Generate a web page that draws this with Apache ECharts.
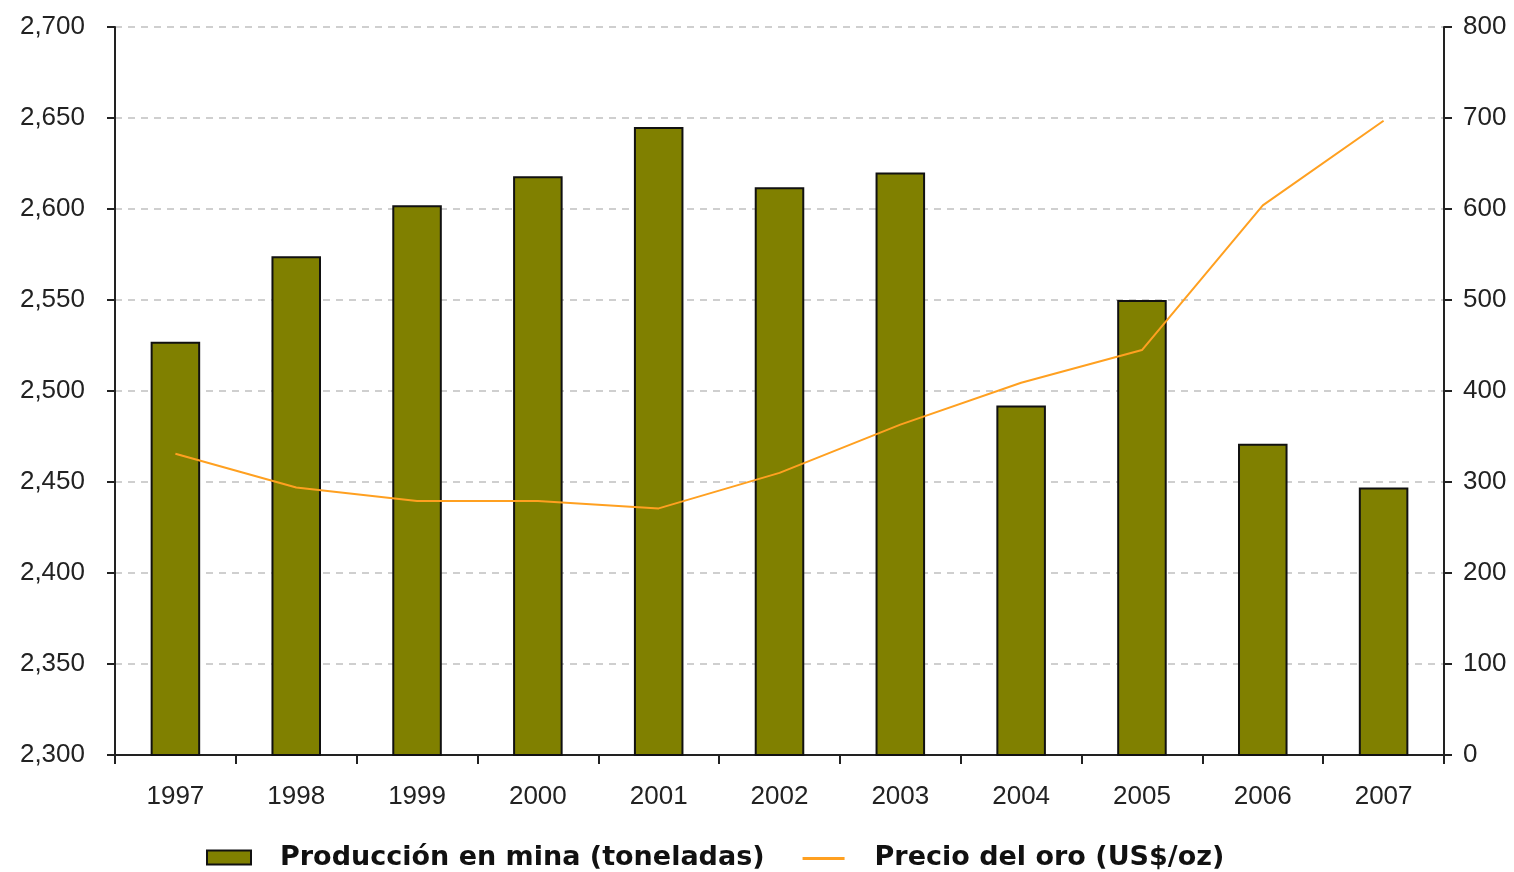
<!DOCTYPE html>
<html>
<head>
<meta charset="utf-8">
<script src="https://cdn.jsdelivr.net/npm/echarts@6/dist/echarts.min.js"></script>
<style>html,body{margin:0;padding:0;background:#fff;}#c{width:1514px;height:872px;}</style>
</head>
<body>
<div id="c"></div>
<script>
const years = ['1997','1998','1999','2000','2001','2002','2003','2004','2005','2006','2007'];
const produccion = [2527, 2574, 2602, 2618, 2645, 2612, 2620, 2492, 2550, 2471, 2447];
const precio = [331, 294, 279, 279, 271, 310, 363, 409, 445, 604, 697];
const leftTicks = [2300, 2700, 50];
const rightTicks = [0, 800, 100];

const chart = echarts.init(document.getElementById('c'), null, {renderer: 'canvas'});
const labelFont = {fontFamily: 'Liberation Sans', fontSize: 26, color: '#222'};
chart.setOption({
  animation: false,
  backgroundColor: '#fff',
  grid: {left: 115, right: 70, top: 27, bottom: 117, containLabel: false},
  legend: {
    top: 839, left: 201,
    itemWidth: 44, itemHeight: 14, itemGap: 38,
    textStyle: {fontFamily: 'DejaVu Sans', fontWeight: 'bold', fontSize: 27, color: '#111', padding: [0, 0, 0, 24]},
    data: [
      {name: 'Producción en mina (toneladas)', icon: 'rect'},
      {name: 'Precio del oro (US$/oz)', icon: 'path://M0,0 L0,0 M0,6.5 L42,6.5 L42,9.5 L0,9.5 Z M0,14 L0,14'}
    ]
  },
  xAxis: {
    type: 'category',
    data: years,
    boundaryGap: true,
    axisLine: {lineStyle: {color: '#222', width: 2}},
    axisTick: {show: true, alignWithLabel: false, length: 9, lineStyle: {color: '#222', width: 2}},
    axisLabel: Object.assign({margin: 29}, labelFont)
  },
  yAxis: [
    {
      type: 'value', min: leftTicks[0], max: leftTicks[1], interval: leftTicks[2],
      axisLine: {show: true, lineStyle: {color: '#222', width: 2}},
      axisTick: {show: true, length: 8, lineStyle: {color: '#222', width: 2}},
      axisLabel: Object.assign({margin: 30, formatter: v => v.toLocaleString('en-US')}, labelFont),
      splitLine: {show: true, lineStyle: {color: '#c0c0c0', type: [7, 6], width: 1.5}}
    },
    {
      type: 'value', min: rightTicks[0], max: rightTicks[1], interval: rightTicks[2],
      position: 'right',
      axisLine: {show: true, lineStyle: {color: '#222', width: 2}},
      axisTick: {show: true, length: 8, lineStyle: {color: '#222', width: 2}},
      axisLabel: Object.assign({margin: 19}, labelFont),
      splitLine: {show: false}
    }
  ],
  series: [
    {
      name: 'Producción en mina (toneladas)',
      type: 'bar',
      yAxisIndex: 0,
      data: produccion,
      barWidth: '41%',
      itemStyle: {color: '#808000', borderColor: '#111', borderWidth: 2}
    },
    {
      name: 'Precio del oro (US$/oz)',
      type: 'line',
      yAxisIndex: 1,
      data: precio,
      symbol: 'none',
      lineStyle: {color: '#ffa020', width: 2},
      itemStyle: {color: '#ffa020'}
    }
  ]
});
</script>
</body>
</html>
